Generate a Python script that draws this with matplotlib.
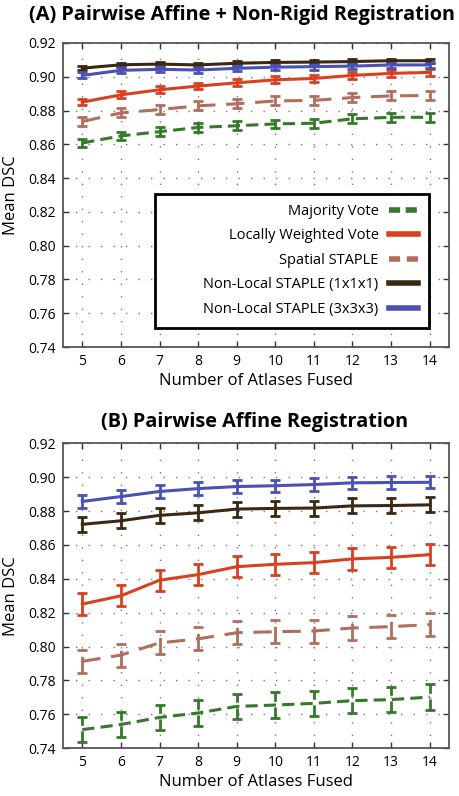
import matplotlib
matplotlib.use("Agg")
import matplotlib.pyplot as plt
from matplotlib.lines import Line2D
from matplotlib.patches import Rectangle

plt.rcParams['font.family'] = ['Open Sans', 'DejaVu Sans']

atlases = [5, 6, 7, 8, 9, 10, 11, 12, 13, 14]
labels = ['Majority Vote', 'Locally Weighted Vote', 'Spatial STAPLE',
          'Non-Local STAPLE (1x1x1)', 'Non-Local STAPLE (3x3x3)']
colors = ['#347a2a', '#d8401f', '#b06f5c', '#3a2812', '#4a50b4']
dashes = [(4, 2), None, (6, 3.5), None, None]

# (A) pairwise affine + non-rigid
a_mv = [0.8608, 0.8650, 0.8675, 0.8700, 0.8710, 0.8721, 0.8725, 0.8751, 0.8760, 0.8760]
a_lwv = [0.8850, 0.8893, 0.8923, 0.8945, 0.8964, 0.8982, 0.8990, 0.9008, 0.9020, 0.9026]
a_sst = [0.8735, 0.8786, 0.8806, 0.8828, 0.8840, 0.8857, 0.8860, 0.8877, 0.8887, 0.8889]
a_nl1 = [0.9051, 0.9071, 0.9075, 0.9070, 0.9080, 0.9085, 0.9087, 0.9090, 0.9095, 0.9095]
a_nl3 = [0.9008, 0.9038, 0.9044, 0.9040, 0.9050, 0.9057, 0.9060, 0.9063, 0.9070, 0.9070]
a_err = [0.0026, 0.0020, 0.0027, 0.0013, 0.0018]

# (B) pairwise affine only
b_mv = [0.7510, 0.7540, 0.7582, 0.7608, 0.7647, 0.7655, 0.7665, 0.7681, 0.7687, 0.7702]
b_lwv = [0.8251, 0.8300, 0.8392, 0.8425, 0.8472, 0.8486, 0.8496, 0.8518, 0.8527, 0.8543]
b_sst = [0.7913, 0.7950, 0.8022, 0.8046, 0.8082, 0.8088, 0.8092, 0.8110, 0.8118, 0.8130]
b_nl1 = [0.8722, 0.8743, 0.8775, 0.8790, 0.8812, 0.8816, 0.8818, 0.8831, 0.8833, 0.8837]
b_nl3 = [0.8857, 0.8886, 0.8916, 0.8933, 0.8945, 0.8950, 0.8957, 0.8967, 0.8969, 0.8970]
b_err = [0.0075, 0.0063, 0.0068, 0.0044, 0.0036]

yticks = [0.74, 0.76, 0.78, 0.80, 0.82, 0.84, 0.86, 0.88, 0.90, 0.92]


def draw_panel(ax, series, errs):
    for vals, e, c, d in zip(series, errs, colors, dashes):
        eb = ax.errorbar(atlases, vals, yerr=e, color=c, lw=2.2, elinewidth=2.0,
                         capsize=3.5, capthick=2.0, zorder=3)
        if d is not None:
            eb[0].set_dashes(d)
            for lc in eb[2]:
                lc.set_linestyle((0, d))
    ax.set_xlim(4.5, 14.5)
    ax.set_ylim(0.74, 0.92)
    ax.set_xticks(atlases)
    ax.set_yticks(yticks)
    ax.set_yticklabels(['%.2f' % t for t in yticks])
    ax.grid(True, color='#777777', lw=1.0, linestyle=(0, (1, 8)))
    ax.tick_params(direction='in', length=4, width=1, top=True, right=True,
                   labelsize=10, pad=5, colors='#333333', labelcolor='black')
    for s in ax.spines.values():
        s.set_color('#555555')
        s.set_linewidth(1.3)
    ax.set_xlabel('Number of Atlases Fused', fontsize=12, labelpad=3)
    ax.set_ylabel('Mean DSC', fontsize=12, labelpad=7)


fig = plt.figure(figsize=(4.6, 7.96), dpi=100)
ax1 = fig.add_axes([0.137, 0.564, 0.839, 0.382])
ax2 = fig.add_axes([0.137, 0.060, 0.839, 0.383])

draw_panel(ax1, [a_mv, a_lwv, a_sst, a_nl1, a_nl3], a_err)
draw_panel(ax2, [b_mv, b_lwv, b_sst, b_nl1, b_nl3], b_err)

fig.text(0.527, 0.981, '(A) Pairwise Affine + Non-Rigid Registration',
         ha='center', va='center', fontsize=14.3, fontweight='bold')
fig.text(0.554, 0.470, '(B) Pairwise Affine Registration',
         ha='center', va='center', fontsize=14.3, fontweight='bold')

# legend frame is wider than its content in the original, so draw it by hand
frame = Rectangle((0.238, 0.0625), 0.71, 0.44, transform=ax1.transAxes,
                  facecolor='white', edgecolor='black', lw=2.0, zorder=4)
ax1.add_patch(frame)

handles = []
for c, d in zip(colors, dashes):
    h = Line2D([], [], color=c, lw=4)
    if d is not None:
        h.set_dashes((2, 1) if d == (4, 2) else (2, 1.2))
    handles.append(h)
leg = ax1.legend(handles, labels, loc='lower right', bbox_to_anchor=(0.948, 0.0625),
                 markerfirst=False, fontsize=10.5, frameon=False,
                 labelspacing=0.66, handlelength=2.0, handletextpad=0.7,
                 borderpad=0.75, borderaxespad=0)
leg.set_zorder(5)
for t in leg.get_texts():
    t.set_ha('right')
leg._legend_box.align = 'right'

fig.savefig('out.png', dpi=100)
